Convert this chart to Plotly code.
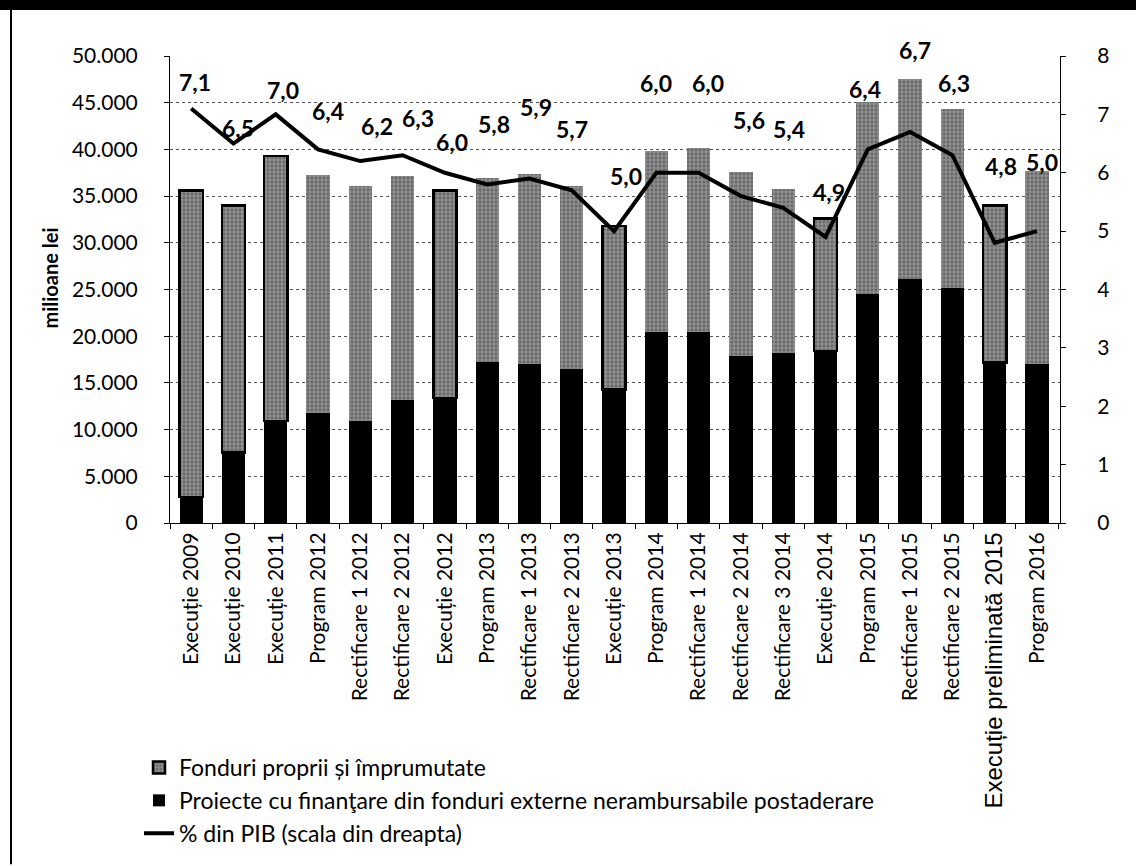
import plotly.graph_objects as go

categories = ["Execuție 2009", "Execuție 2010", "Execuție 2011", "Program 2012",
              "Rectificare 1 2012", "Rectificare 2 2012", "Execuție 2012", "Program 2013",
              "Rectificare 1 2013", "Rectificare 2 2013", "Execuție 2013", "Program 2014",
              "Rectificare 1 2014", "Rectificare 2 2014", "Rectificare 3 2014", "Execuție 2014",
              "Program 2015", "Rectificare 1 2015", "Rectificare 2 2015",
              "Execuție preliminată 2015", "Program 2016"]

proiecte_externe = [2800, 7550, 10900, 11800, 10900, 13200, 13400, 17200, 17000, 16500,
                    14300, 20400, 20400, 17900, 18200, 18400, 24500, 26100, 25200, 17200, 17000]
fonduri_proprii = [32800, 26450, 28400, 25500, 25200, 24000, 22200, 19700, 20400, 19600,
                   17500, 19400, 19700, 19700, 17600, 14200, 20600, 21400, 19100, 16800, 20700]
pib_pct = [7.1, 6.5, 7.0, 6.4, 6.2, 6.3, 6.0, 5.8, 5.9, 5.7, 5.0, 6.0, 6.0, 5.6, 5.4,
           4.9, 6.4, 6.7, 6.3, 4.8, 5.0]
pib_labels = ["7,1", "6,5", "7,0", "6,4", "6,2", "6,3", "6,0", "5,8", "5,9", "5,7", "5,0",
              "6,0", "6,0", "5,6", "5,4", "4,9", "6,4", "6,7", "6,3", "4,8", "5,0"]

# label placement offsets (pixels), styling only
label_dy = [27, 16, 24, 38, 35, 37, 31, 60, 72, 61, 55, 90, 90, 76, 79, 45, 60, 82, 72, 77, 69]
label_dx = [4, 5, 7, 10, 17, 15, 7, 7, 7, 0, 12, 0, 9, 8, 6, 3, -3, 5, 2, 6, 5]

W, H = 1136, 866
L, R, T, B = 170, 76, 56, 342
PW, PH = W - L - R, H - T - B

outline = [2.5 if c.startswith("Execuție") else 0 for c in categories]

tick_text = []
for c in categories:
    if c == "Execuție preliminată 2015":
        tick_text.append("<span style=\"font-family:'Liberation Sans';font-size:24px\">" + c + "</span>")
    else:
        tick_text.append(c)

fig = go.Figure()
fig.add_trace(go.Bar(
    x=categories, y=proiecte_externe,
    name="Proiecte cu finanţare din fonduri externe nerambursabile postaderare",
    marker=dict(color="#000000", line=dict(width=0)),
    legendrank=2, legendgroup="b",
))
fig.add_trace(go.Bar(
    x=categories, y=fonduri_proprii,
    name="Fonduri proprii și împrumutate",
    marker=dict(color="#888888",
                pattern=dict(shape=".", bgcolor="#8e8e8e", fgcolor="#404040", size=4, solidity=0.4),
                line=dict(width=outline, color="#000000")),
    legendrank=1, legendgroup="a",
))
fig.add_trace(go.Scatter(
    x=categories, y=pib_pct, yaxis="y2", mode="lines",
    name="% din PIB (scala din dreapta)",
    line=dict(color="#000000", width=4),
    legendrank=3, legendgroup="c",
))

for c, v, t, dy, dx in zip(categories, pib_pct, pib_labels, label_dy, label_dx):
    fig.add_annotation(x=c, y=v, yref="y2", text="<b>" + t + "</b>", showarrow=False,
                       yshift=dy, xshift=dx,
                       font=dict(family="Lato", size=23, color="#000000"))

def px(xp):
    return (xp - L) / PW

def py(yp):
    return (H - B - yp) / PH

# y-axis title
fig.add_annotation(xref="paper", yref="paper", x=px(50), y=py(279), text="<b>milioane lei</b>",
                   textangle=-90, showarrow=False, xanchor="center", yanchor="middle",
                   font=dict(family="Lato", size=20, color="#000000"))

# outer frame pieces
fig.add_shape(type="rect", xref="paper", yref="paper", x0=px(0), x1=px(W), y0=py(10), y1=py(0),
              fillcolor="#000000", line=dict(width=0), layer="above")
fig.add_shape(type="line", xref="paper", yref="paper", x0=px(11), x1=px(11), y0=py(10), y1=py(H),
              line=dict(color="#000000", width=2))

fig.update_layout(
    width=W, height=H,
    margin=dict(l=L, r=R, t=T, b=B, pad=0),
    paper_bgcolor="#ffffff", plot_bgcolor="#ffffff",
    barmode="stack", bargap=0.45,
    separators=",.",
    font=dict(family="Lato", size=21, color="#000000"),
    showlegend=True,
    legend=dict(x=px(139), y=py(746), xanchor="left", yanchor="top",
                traceorder="grouped", tracegroupgap=0,
                font=dict(family="Lato", size=23, color="#000000"),
                bgcolor="rgba(0,0,0,0)", itemwidth=30),
    xaxis=dict(tickmode="array", tickvals=categories, ticktext=tick_text,
               tickangle=-90, tickfont=dict(family="Lato", size=21),
               showline=True, linecolor="#000000", linewidth=1,
               ticks="outside", ticklen=5, tickcolor="#000000", tickson="boundaries",
               showgrid=False, mirror=False),
    yaxis=dict(range=[0, 50000], dtick=5000, tickformat=",d",
               showgrid=True, gridcolor="#555555", griddash="dot", gridwidth=1,
               showline=True, linecolor="#000000", linewidth=1,
               ticks="outside", ticklen=5, tickcolor="#000000",
               tickfont=dict(family="Lato", size=21), ticklabelstandoff=22,
               zeroline=False),
    yaxis2=dict(range=[0, 8], dtick=1, overlaying="y", side="right",
                showgrid=False, showline=True, linecolor="#000000", linewidth=1,
                ticks="outside", ticklen=5, tickcolor="#000000",
                tickfont=dict(family="Lato", size=21), ticklabelstandoff=27, zeroline=False),
)

fig.write_html("out.html", config={"displayModeBar": False},
               post_script="document.body.style.margin='0';")
